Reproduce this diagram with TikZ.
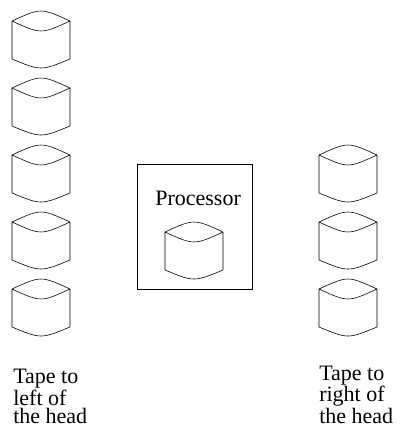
\documentclass[tikz,border=0pt]{standalone}
\usepackage{fontspec}
\setmainfont{Liberation Serif}

\begin{document}
\begin{tikzpicture}[x=1pt, y=-1pt, line width=0.6pt,
        tapecell/.pic={
            \draw (0,0) .. controls (29,-13.3) .. (58,0)
                  (0,0) .. controls (29,13.3) .. (58,0)
                  (0,0) -- (0,38) .. controls (29,50) .. (58,38) -- (58,0);
        },
        caption/.style={inner sep=0pt, anchor=base west, align=left,
            font=\fontsize{22pt}{18pt}\selectfont}]

        \useasboundingbox (0,0) rectangle (399,431);

        % tape to the left
        \pic (l1) at (12,21) {tapecell};
        \pic (l2) at (12,88) {tapecell};
        \pic (l3) at (12,155) {tapecell};
        \pic (l4) at (12,222) {tapecell};
        \pic (l5) at (12,289) {tapecell};

        % processor
        \node [draw, anchor=north west, minimum width=115pt, minimum height=125pt] (cpu) at (137,164) {};
        \node [caption] (proc) at (155,205) {Processor};
        \pic (state) at (165,232) {tapecell};

        % tape to the right
        \pic (r1) at (319,155) {tapecell};
        \pic (r2) at (319,222) {tapecell};
        \pic (r3) at (319,289) {tapecell};

        % last line sets the base
        \node [caption] (lefttxt) at (13,423) {Tape to\\left of\\the head};
        \node [caption] (righttxt) at (319,423) {Tape to\\right of\\the head};

\end{tikzpicture}
\end{document}
